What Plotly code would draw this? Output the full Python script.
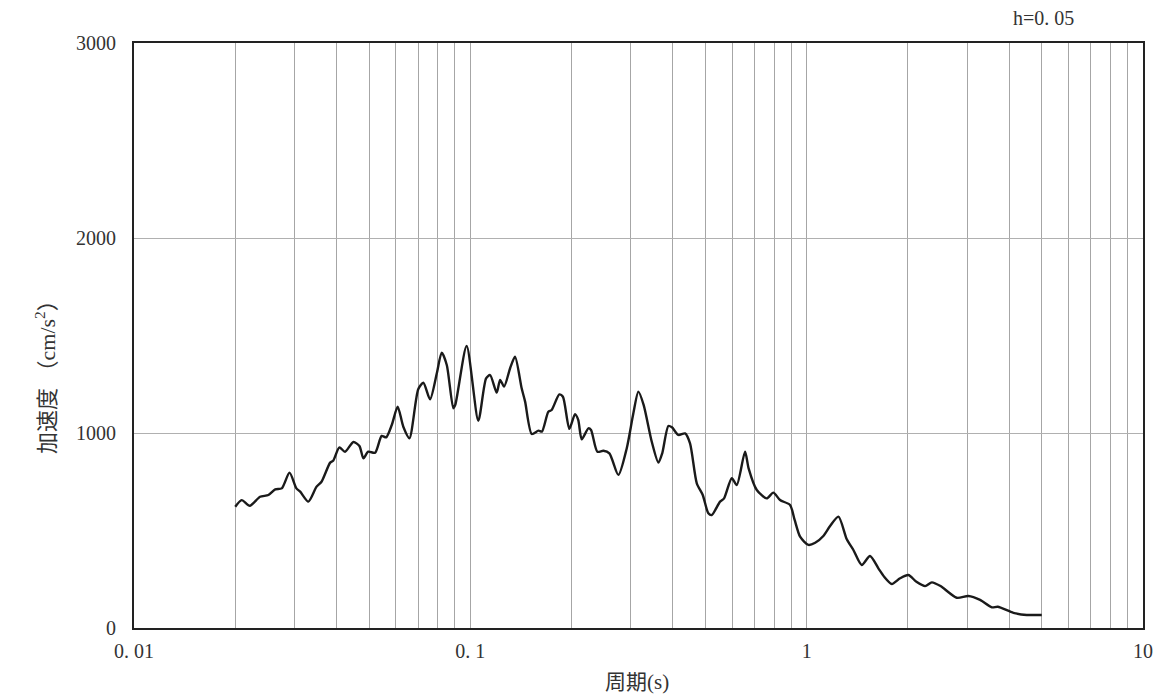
import plotly.graph_objects as go

period = [0.0200, 0.0209, 0.0221, 0.0237, 0.0251, 0.0263, 0.0275, 0.0290, 0.0304, 0.0312,
          0.0330, 0.0349, 0.0361, 0.0383, 0.0391, 0.0408, 0.0424, 0.0449, 0.0468, 0.0481,
          0.0497, 0.0521, 0.0545, 0.0562, 0.0584, 0.0608, 0.0632, 0.0659, 0.0700, 0.0725,
          0.0759, 0.0795, 0.0822, 0.0851, 0.0890, 0.0902, 0.0975, 0.1056, 0.1114, 0.1145,
          0.1198, 0.1226, 0.1260, 0.1313, 0.1358, 0.1421, 0.1455, 0.1523, 0.1594, 0.1632,
          0.1706, 0.1745, 0.1839, 0.1885, 0.1970, 0.2048, 0.2093, 0.2144, 0.2244, 0.2285,
          0.2386, 0.2487, 0.2591, 0.2755, 0.2918, 0.3053, 0.3160, 0.3275, 0.3463, 0.3624,
          0.3720, 0.3880, 0.3975, 0.4155, 0.4349, 0.4500, 0.4713, 0.4909, 0.5101, 0.5220,
          0.5527, 0.5680, 0.5989, 0.6197, 0.6559, 0.6720, 0.7107, 0.7608, 0.7962, 0.8334,
          0.8925, 0.9210, 0.9560, 1.012, 1.060, 1.121, 1.174, 1.243, 1.316, 1.377,
          1.458, 1.543, 1.634, 1.700, 1.791, 1.895, 2.006, 2.120, 2.250, 2.356,
          2.500, 2.794, 3.025, 3.278, 3.552, 3.700, 4.119, 4.512, 5.000]

accel = [622, 656, 627, 673, 682, 711, 716, 797, 716, 699,
         648, 725, 750, 848, 858, 926, 904, 954, 933, 870,
         904, 899, 985, 978, 1041, 1135, 1032, 973, 1224, 1258,
         1173, 1306, 1412, 1349, 1127, 1144, 1446, 1063, 1280, 1297,
         1207, 1272, 1238, 1332, 1391, 1229, 1161, 995, 1012, 1007,
         1109, 1118, 1198, 1186, 1021, 1097, 1067, 968, 1024, 1015,
         904, 909, 896, 785, 922, 1101, 1212, 1144, 955, 848,
         896, 1036, 1029, 990, 998, 947, 742, 682, 588, 579,
         648, 665, 768, 733, 904, 819, 708, 665, 694, 656,
         631, 554, 468, 426, 437, 472, 523, 571, 455, 400,
         323, 369, 306, 263, 226, 255, 272, 237, 215, 234,
         215, 155, 164, 144, 106, 109, 78, 67, 67]

x_ticks = [0.01, 0.1, 1, 10]
x_text = ["0. 01", "0. 1", "1", "10"]
x_minor = [m * 10 ** e for e in (-2, -1, 0) for m in range(2, 10)]

y_ticks = [0, 1000, 2000, 3000]
y_text = ["0", "1000", "2000", "3000"]

FONT = "Liberation Serif, Noto Sans CJK JP, serif"
GRID = "#a6a6a6"

fig = go.Figure()
fig.add_trace(go.Scatter(
    x=period, y=accel, mode="lines",
    line=dict(color="#1a1a1a", width=2.4, shape="spline", smoothing=0.7),
    showlegend=False, hoverinfo="skip",
))

fig.update_layout(
    width=1160, height=691,
    margin=dict(l=126, r=25, t=35, b=71),
    paper_bgcolor="white", plot_bgcolor="white",
    font=dict(family=FONT, size=20, color="#222"),
    xaxis=dict(
        type="log", range=[-2, 1],
        tickvals=x_ticks, ticktext=x_text,
        showgrid=True, gridcolor=GRID, gridwidth=1,
        minor=dict(tickvals=x_minor, showgrid=True, gridcolor=GRID, gridwidth=1, ticks=""),
        showline=True, linecolor="#222", linewidth=2, mirror=True,
        ticks="", zeroline=False, ticklabelstandoff=4,
        tickfont=dict(family=FONT, size=20, color="#333"),
    ),
    yaxis=dict(
        range=[0, 3000], tickvals=y_ticks, ticktext=y_text,
        showgrid=True, gridcolor="#b0b0b0", gridwidth=1,
        showline=True, linecolor="#222", linewidth=2, mirror=True,
        ticks="", zeroline=False, ticklabelstandoff=12,
        tickfont=dict(family=FONT, size=20, color="#333"),
    ),
    annotations=[
        dict(text="加速度 （cm/s<sup>2</sup>）", xref="paper", yref="paper",
             x=-0.088, y=0.438, textangle=-90, showarrow=False,
             xanchor="center", yanchor="middle",
             font=dict(family=FONT, size=22, color="#333")),
        dict(text="周期(s)", xref="paper", yref="paper",
             x=0.4985, y=-0.092, showarrow=False,
             xanchor="center", yanchor="middle",
             font=dict(family=FONT, size=21, color="#333")),
        dict(text="h=0. 05", xref="paper", yref="paper",
             x=0.901, y=1.043, showarrow=False,
             xanchor="center", yanchor="middle",
             font=dict(family=FONT, size=20, color="#333")),
    ],
)

fig.write_html("out.html")
